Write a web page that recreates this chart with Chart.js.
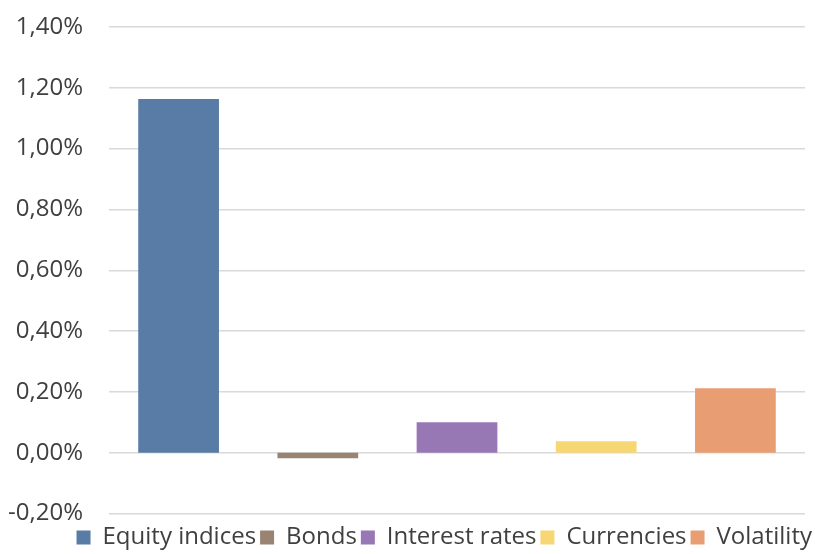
<!DOCTYPE html>
<html>
<head>
<meta charset="utf-8">
<script src="https://cdn.jsdelivr.net/npm/chart.js@4/dist/chart.umd.min.js"></script>
<style>
  html, body { margin: 0; padding: 0; background: #fff; }
  #wrap { width: 815px; height: 554px; }
</style>
</head>
<body>
<div id="wrap"><canvas id="myChart"></canvas></div>
<script>
// categories and values (in %)
var categories = ['Equity indices', 'Bonds', 'Interest rates', 'Currencies', 'Volatility'];
var values = [1.163, -0.018, 0.100, 0.038, 0.212];
var colors = ['#587ca6', '#998474', '#9877b5', '#f6d774', '#e89d73'];

var yMin = -0.2, yMax = 1.4, yStep = 0.2;

var data = {
  labels: categories,
  datasets: [{
    data: values,
    backgroundColor: colors,
    barPercentage: 0.58,
    categoryPercentage: 1
  }]
};

// nudge the legend to the right edge, as in the Excel original
var shiftLegend = {
  id: 'shiftLegend',
  afterLayout: function (chart) {
    chart.legend.left += 11;
    chart.legend.right += 11;
  }
};

const config = {
  type: 'bar',
  data: data,
  plugins: [shiftLegend],
  options: {
    responsive: true,
    maintainAspectRatio: false,
    animation: false,
    layout: { padding: { top: 0, right: 10, left: 0, bottom: -6 } },
    plugins: {
      tooltip: { enabled: false },
      legend: {
        position: 'bottom',
        align: 'end',
        labels: {
          color: '#404040',
          font: { family: 'Open Sans', size: 24 },
          boxWidth: 14,
          boxHeight: 14,
          padding: 4,
          // one legend entry per category, like Excel's vary-colors
          generateLabels: function (chart) {
            return categories.map(function (c, i) {
              return {
                text: c,
                fillStyle: colors[i],
                strokeStyle: colors[i],
                lineWidth: 0,
                fontColor: '#404040',
                index: i
              };
            });
          }
        },
        onClick: function () {}
      }
    },
    scales: {
      x: {
        grid: { display: false },
        border: { display: false },
        ticks: { display: false }
      },
      y: {
        min: yMin,
        max: yMax,
        border: { display: false },
        grid: { color: '#d9d9d9', lineWidth: 1.6, drawTicks: false },
        afterFit: function (scale) {
          scale.width = 109;
          scale.paddingTop = 27;
        },
        ticks: {
          stepSize: yStep,
          padding: 26,
          color: '#404040',
          font: { family: 'Open Sans', size: 24 },
          callback: function (v) {
            if (Math.abs(v) < 1e-9) v = 0;
            return v.toFixed(2).replace('.', ',') + '%';
          }
        }
      }
    }
  }
};

var myChart = new Chart(document.getElementById('myChart'), config);
</script>
</body>
</html>
